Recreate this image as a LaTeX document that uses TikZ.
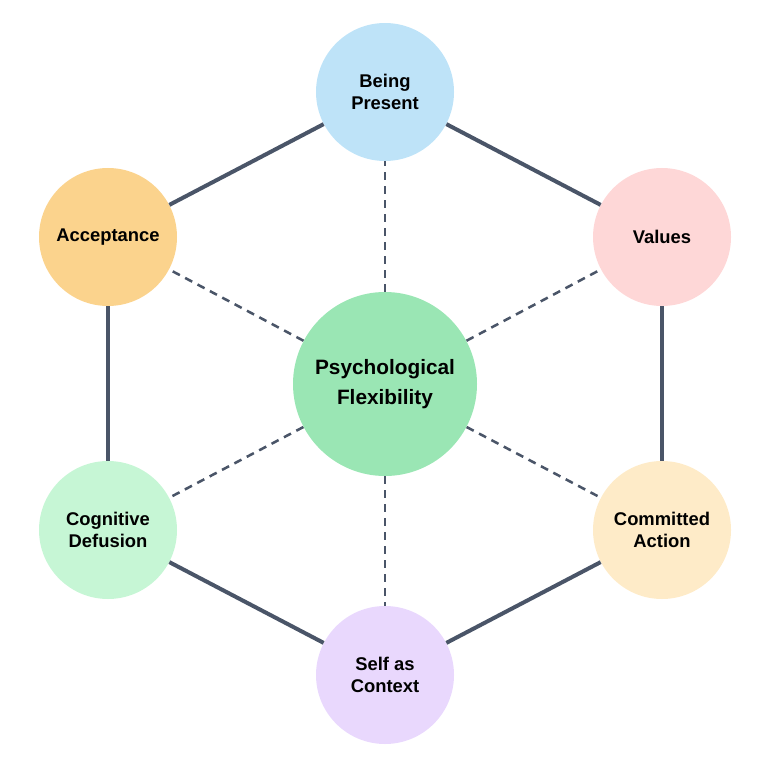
\documentclass[tikz,border=0pt]{standalone}
\usepackage{fontspec}
\setmainfont{Liberation Sans}
\usepackage{xcolor}
\usepackage{tikz}
\definecolor{linegray}{HTML}{4A5568}
\definecolor{pfgreen}{HTML}{9AE6B4}
\definecolor{bpblue}{HTML}{BEE3F8}
\definecolor{valred}{HTML}{FED7D7}
\definecolor{caorange}{HTML}{FEEBC8}
\definecolor{scpurple}{HTML}{E9D8FD}
\definecolor{cdgreen}{HTML}{C6F6D5}
\definecolor{accorange}{HTML}{FBD38D}
\tikzstyle{hub} = [circle, minimum size=184*0.75pt, inner sep=0pt, align=center, font=\bfseries\fontsize{15.6}{23}\selectfont]
\tikzstyle{process} = [circle, minimum size=138*0.75pt, inner sep=0pt, align=center, font=\bfseries\fontsize{13.8}{17}\selectfont]
\tikzstyle{ring} = [draw=linegray, line width=3pt]
\tikzstyle{spoke} = [draw=linegray, line width=1.9pt, dash pattern=on 6pt off 4.5pt]

\begin{document}
\begin{tikzpicture}[x=0.75pt, y=-0.75pt]
		\useasboundingbox (0,0) rectangle (767,780);

		\node (flex) [hub, fill=pfgreen] at (385,384) {Psychological\\Flexibility};
		\node (present) [process, fill=bpblue] at (385,92) {Being\\Present};
		\node (values) [process, fill=valred] at (662,237) {Values};
		\node (action) [process, fill=caorange] at (662,530) {Committed\\Action};
		\node (self) [process, fill=scpurple] at (385,675) {Self as\\Context};
		\node (defusion) [process, fill=cdgreen] at (108,530) {Cognitive\\Defusion};
		\node (accept) [process, fill=accorange] at (108,237) {Acceptance};

		\draw [ring] (present) -- (values);
		\draw [ring] (values) -- (action);
		\draw [ring] (action) -- (self);
		\draw [ring] (self) -- (defusion);
		\draw [ring] (defusion) -- (accept);
		\draw [ring] (accept) -- (present);

		\draw [spoke] (flex) -- (present);
		\draw [spoke] (flex) -- (values);
		\draw [spoke] (flex) -- (action);
		\draw [spoke] (flex) -- (self);
		\draw [spoke] (flex) -- (defusion);
		\draw [spoke] (flex) -- (accept);
	\end{tikzpicture}
\end{document}
